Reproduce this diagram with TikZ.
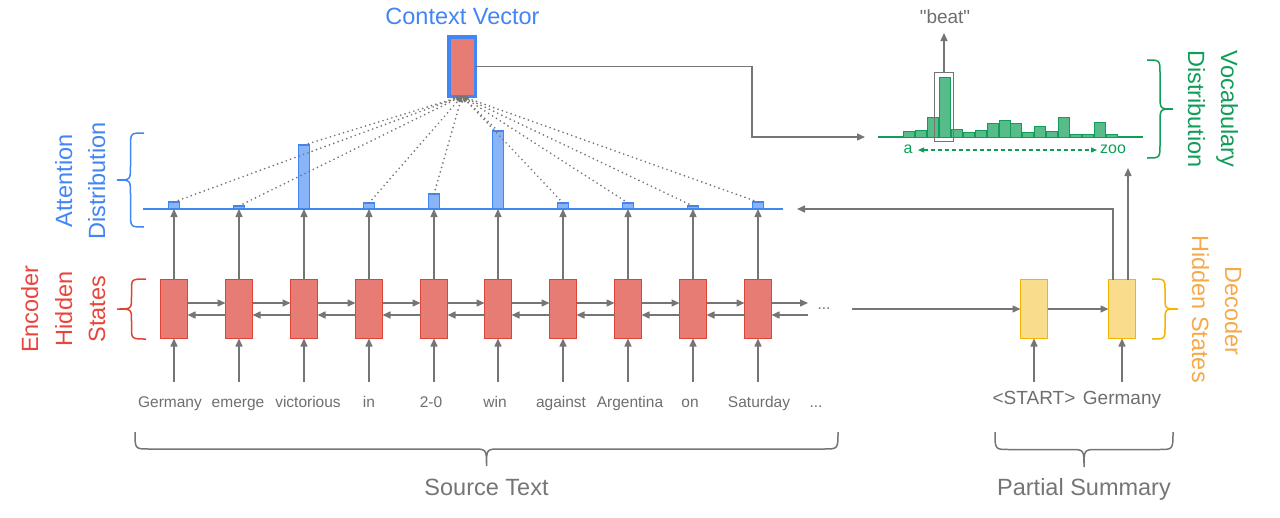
\documentclass[tikz,border=0pt]{standalone}
\usepackage{fontspec}
\setmainfont{Liberation Sans}
\newfontfamily\qfont{Liberation Sans}
\usetikzlibrary{arrows.meta,calc}
\definecolor{gr}{HTML}{757575}
\definecolor{txt}{HTML}{6E6E6E}
\definecolor{rfill}{HTML}{E67C73}
\definecolor{rdraw}{HTML}{DB4437}
\definecolor{rtxt}{HTML}{E8453C}
\definecolor{bl}{HTML}{4285F4}
\definecolor{blfill}{HTML}{8AB4F8}
\definecolor{gn}{HTML}{0F9D58}
\definecolor{gnfill}{HTML}{57BB8A}
\definecolor{ylw}{HTML}{F4B400}
\definecolor{ylfill}{HTML}{F9DC8C}
\definecolor{org}{HTML}{F6A94A}
\newcommand\bracev[6][]{% x0, ytop, ybot, dx, q
 \draw[#1] (#2,#3) .. controls ({#2+0.5*(#5)},#3) .. ({#2+0.5*(#5)},{#3+#6})
  -- ({#2+0.5*(#5)},{(#3+#4)/2-#6}) .. controls ({#2+0.5*(#5)},{(#3+#4)/2}) .. ({#2+#5},{(#3+#4)/2})
  .. controls ({#2+0.5*(#5)},{(#3+#4)/2}) .. ({#2+0.5*(#5)},{(#3+#4)/2+#6})
  -- ({#2+0.5*(#5)},{#4-#6}) .. controls ({#2+0.5*(#5)},#4) .. (#2,#4);}
\newcommand\braceh[6][]{% y0, xl, xr, dy, q
 \draw[#1] (#3,#2) .. controls (#3,{#2+0.5*(#5)}) .. ({#3+#6},{#2+0.5*(#5)})
  -- ({(#3+#4)/2-#6},{#2+0.5*(#5)}) .. controls ({(#3+#4)/2},{#2+0.5*(#5)}) .. ({(#3+#4)/2},{#2+#5})
  .. controls ({(#3+#4)/2},{#2+0.5*(#5)}) .. ({(#3+#4)/2+#6},{#2+0.5*(#5)})
  -- ({#4-#6},{#2+0.5*(#5)}) .. controls (#4,{#2+0.5*(#5)}) .. (#4,#2);}
\begin{document}
\begin{tikzpicture}[x=1pt,y=-1pt,
  arr/.style={draw=gr, line width=1.5pt, -{Triangle[length=8pt,width=7pt]}},
  dotln/.style={draw=gr, line width=1.9pt, dash pattern=on 0pt off 4.6pt, line cap=round, -{Triangle[length=6pt,width=5pt]}},
  enc/.style={draw=rdraw, fill=rfill, line width=1.5pt, minimum width=27pt, minimum height=59pt, inner sep=0pt, outer sep=0pt},
  dec/.style={draw=ylw, fill=ylfill, line width=1.5pt, minimum width=27pt, minimum height=59pt, inner sep=0pt, outer sep=0pt},
  abar/.style={draw=bl, fill=blfill, line width=1.2pt, minimum width=11pt, inner sep=0pt, outer sep=0pt, anchor=south},
  vbar/.style={draw=gn, fill=gnfill, line width=1pt, minimum width=11pt, inner sep=0pt, outer sep=0pt, anchor=south},
  word/.style={text=txt, font=\fontsize{15.5}{18}\selectfont, inner sep=0pt},
  dword/.style={text=txt, font=\fontsize{19}{22}\selectfont, inner sep=0pt},
  big/.style={font=\fontsize{23.5}{28}\selectfont, inner sep=0pt},
]
\useasboundingbox (0,0) rectangle (1280,517);

% attention line
\coordinate (al) at (143,209);
\coordinate (ar) at (783,209);
\draw[bl, line width=1.5pt] (al) -- (ar);

% encoder boxes, attention bars, inputs
\foreach \i/\x/\h in {1/174/7,2/239/3,3/304/64,4/369/6,5/434/15,6/498/78,7/563/6,8/628/6,9/693/3,10/758/7}{
  \node[enc] (e\i) at (\x,309) {};
  \node[abar, minimum height=\h pt] (a\i) at (\x,209) {};
  \coordinate (i\i) at (\x,382);
  \draw[arr] (i\i) -- (e\i.south);
  \draw[arr] (e\i.north) -- (a\i.south);
}
\foreach \i [evaluate=\i as \j using int(\i+1)] in {1,2,3,4,5,6,7,8,9}{
  \draw[arr] ($(e\i.east)+(0,-6)$) -- ($(e\j.west)+(0,-6)$);
  \draw[arr] ($(e\j.west)+(0,6)$) -- ($(e\i.east)+(0,6)$);
}
\coordinate (rf) at (808,303);
\coordinate (lf) at (808,315);
\draw[arr] ($(e10.east)+(0,-6)$) -- (rf);
\draw[arr] (lf) -- ($(e10.east)+(0,6)$);
\node[word] (dots1) at (824,309) {...};

% source words
\foreach \t/\x [count=\n] in {Germany/170,emerge/238,victorious/308,in/369,2-0/431,win/495,against/561,Argentina/630,on/690,Saturday/759}
  \node[word, anchor=base] (w\n) at (\x,407) {\t};
\node[word, anchor=base] (w11) at (816,407) {...};

% decoder
\node[dec] (d1) at (1034,309) {};
\node[dec] (d2) at (1122,309) {};
\coordinate (ls) at (852,309);
\draw[arr] (ls) -- (d1.west);
\draw[arr] (d1.east) -- (d2.west);
\coordinate (j1) at (1034,382);
\coordinate (j2) at (1122,382);
\draw[arr] (j1) -- (d1.south);
\draw[arr] (j2) -- (d2.south);
\node[dword, anchor=base] (ws) at (1034,404) {<START>};
\node[dword, anchor=base] (wg) at (1122,404) {Germany};
\coordinate (c1) at (1113,209);
\coordinate (c1e) at (797,209);
\draw[arr] (d2.north -| c1) -- (c1) -- (c1e);
\coordinate (c2) at (1128,168);
\draw[arr] (d2.north -| c2) -- (c2);

% context vector
\node[draw=bl, fill=rfill, line width=3.5pt, minimum width=26.5pt, minimum height=59.5pt, inner sep=0pt, outer sep=0pt] (cv) at (462,66.5) {};
\node[big, text=bl] (cvl) at (462.5,16.5) {Context Vector};
\foreach \i in {1,2,3,4,5,6,7,8,9,10}
  \draw[dotln] (a\i.north) -- (cv.south);

% vocabulary distribution
\coordinate (k1) at (752,137);
\coordinate (vin) at (865,137);
\draw[arr] (cv.east) -| (k1) -- (vin);
\coordinate (vl) at (878,137);
\coordinate (vr) at (1143,137);
\draw[gn, line width=1.5pt] (vl) -- (vr);
\foreach \k/\h in {1/6,2/7,3/20,4/60,5/8,6/5,7/7,8/14,9/17,10/14,11/5,12/11,13/6,14/20,15/3,16/3,17/15,18/3}
  \node[vbar, minimum height=\h pt] (v\k) at ({903+11.94*(\k-0.5)},137) {};
\node[draw=gr, line width=1.3pt, minimum width=19pt, minimum height=69pt, inner sep=0pt, outer sep=0pt] (hl) at (944,107) {};
\coordinate (bt) at (944,33);
\draw[arr] (hl.north) -- (bt);
\node[text=txt, font=\qfont\fontsize{19}{22}\selectfont, inner sep=0pt] (beat) at (945,17) {"beat"};
\node[text=gn, font=\fontsize{16}{18}\selectfont, inner sep=0pt] (aa) at (908,149) {a};
\node[text=gn, font=\fontsize{16}{18}\selectfont, inner sep=0pt] (zoo) at (1113,149) {zoo};
\coordinate (da) at (918,150);
\coordinate (dz) at (1097,150);
\draw[gn, line width=1.2pt, dash pattern=on 4pt off 3pt, {Triangle[length=6pt,width=5pt]}-{Triangle[length=6pt,width=5pt]}] (da) -- (dz);

% braces
\bracev[bl, line width=1.5pt]{144}{133}{227}{-27}{14}
\bracev[rdraw, line width=1.5pt]{146}{279}{339}{-29}{12}
\bracev[gn, line width=1.5pt]{1147}{60}{158}{26}{14}
\bracev[ylw, line width=1.5pt]{1152}{279}{339}{26}{12}
\braceh[gr, line width=1.5pt]{432}{135}{838}{34}{14}
\braceh[gr, line width=1.5pt]{432}{995}{1173}{35}{14}

% labels
\node[big, text=gr, anchor=base] (st) at (486.5,495) {Source Text};
\node[big, text=gr, anchor=base] (ps) at (1084,495) {Partial Summary};
\node[big, text=rtxt, anchor=base, rotate=90] (l1) at (38,309) {Encoder};
\node[big, text=rtxt, anchor=base, rotate=90] (l2) at (72,309) {Hidden};
\node[big, text=rtxt, anchor=base, rotate=90] (l3) at (105,309) {States};
\node[big, text=bl, anchor=base, rotate=90] (l4) at (72,181) {Attention};
\node[big, text=bl, anchor=base, rotate=90] (l5) at (105,181) {Distribution};
\node[big, text=gn, anchor=base, rotate=-90] (l6) at (1221,109) {Vocabulary};
\node[big, text=gn, anchor=base, rotate=-90] (l7) at (1188,109) {Distribution};
\node[big, text=org, anchor=base, rotate=-90] (l8) at (1225,311) {Decoder};
\node[big, text=org, anchor=base, rotate=-90] (l9) at (1192,309) {Hidden States};
\end{tikzpicture}
\end{document}
